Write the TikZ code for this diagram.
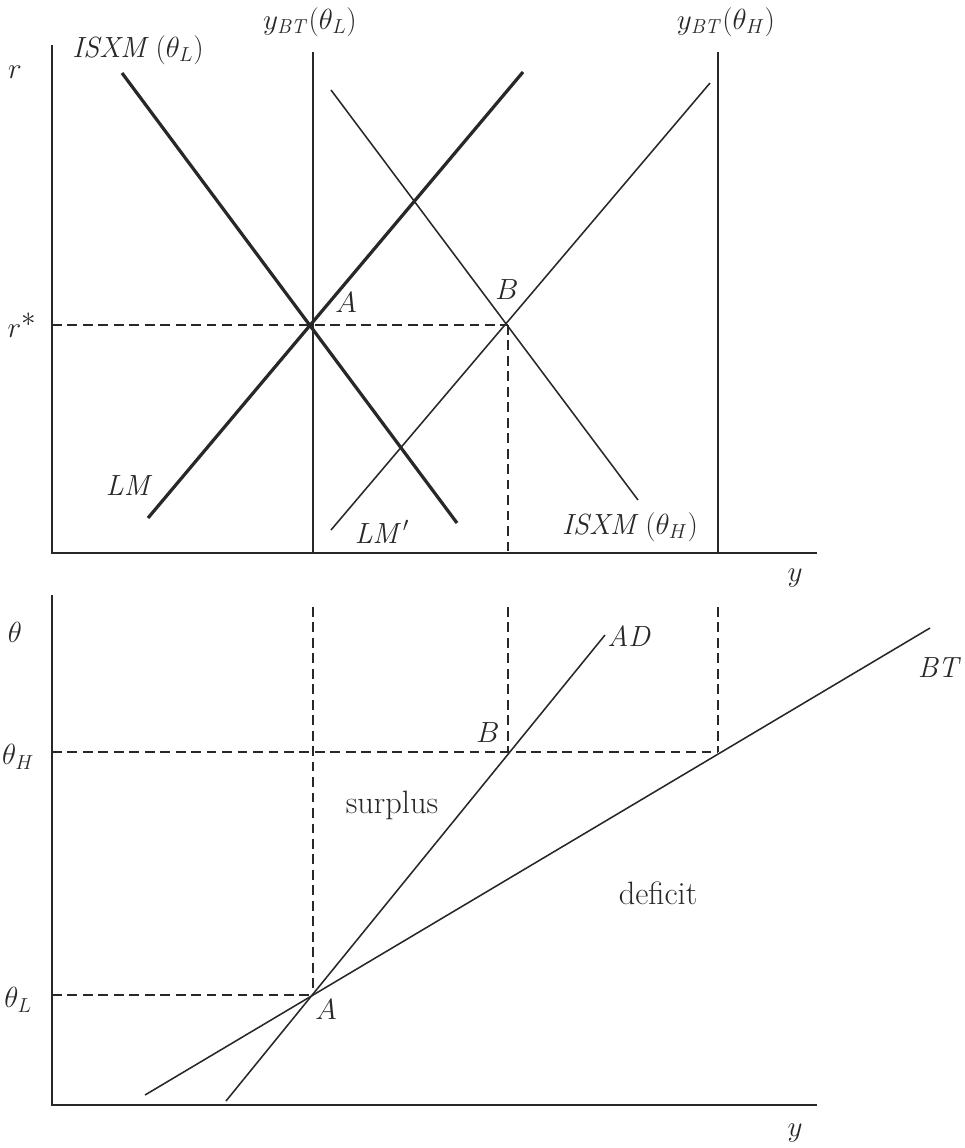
\documentclass[tikz,border=0pt]{standalone}
\definecolor{ink}{RGB}{40,40,40}
\begin{document}
\begin{tikzpicture}[x=0.25mm,y=-0.25mm,
  axis/.style={draw=ink,line width=1.4pt},
  thick curve/.style={draw=ink,line width=2.3pt},
  thin curve/.style={draw=ink,line width=1.1pt},
  guide/.style={draw=ink,line width=0.8pt,dash pattern=on 7pt off 4pt},
  lbl/.style={text=ink,inner sep=0pt,font=\fontsize{22}{26}\selectfont},
  txt/.style={text=ink,inner sep=0pt,font=\fontsize{23}{27}\selectfont}]
\useasboundingbox (0,0) rectangle (964,1148);
% ---------- top panel ----------
\coordinate (t0) at (52,553);
\coordinate (ttop) at (52,45);
\coordinate (tright) at (817,553);
\draw[axis] (ttop) -- (t0) -- (tright);
\coordinate (vL1) at (313,52); \coordinate (vL2) at (313,553);
\coordinate (vH1) at (718,52); \coordinate (vH2) at (718,553);
\draw[thin curve] (vL1) -- (vL2);
\draw[thin curve] (vH1) -- (vH2);
\coordinate (A) at (313,325);
\coordinate (B) at (508,325);
\coordinate (rs) at (52,325);
\coordinate (Bx) at (508,553);
\draw[guide] (rs) -- (B);
\draw[guide] (B) -- (Bx);
\coordinate (isL1) at (122,73); \coordinate (isL2) at (457,523);
\draw[thick curve] (isL1) -- (isL2);
\coordinate (lm1) at (148,518); \coordinate (lm2) at (523,72);
\draw[thick curve] (lm1) -- (lm2);
\coordinate (isH1) at (331,90); \coordinate (isH2) at (638,500);
\draw[thin curve] (isH1) -- (isH2);
\coordinate (lmp1) at (331,530); \coordinate (lmp2) at (710,83);
\draw[thin curve] (lmp1) -- (lmp2);
\node[lbl] (lr) at (15,72) {$r$};
\node[lbl] (lrs) at (22,325) {$r^{\textstyle *}$};
\node[lbl] (lyL) at (310,22) {$y_{\mathit{BT}}(\theta_L)$};
\node[lbl] (lyH) at (726,22) {$y_{\mathit{BT}}(\theta_H)$};
\node[lbl] (lisL) at (138,50) {$\mathit{ISXM}\,(\theta_L)$};
\node[lbl] (lA) at (346,303) {$A$};
\node[lbl] (lB) at (507,290) {$B$};
\node[lbl] (lLM) at (130,486) {$\mathit{LM}$};
\node[lbl] (lLMp) at (382,532) {$\mathit{LM}'$};
\node[lbl] (lisH) at (630,527) {$\mathit{ISXM}\,(\theta_H)$};
\node[lbl] (ly1) at (795,578) {$y$};
% ---------- bottom panel ----------
\coordinate (b0) at (52,1105);
\coordinate (btop) at (52,595);
\coordinate (bright) at (817,1105);
\draw[axis] (btop) -- (b0) -- (bright);
\coordinate (A2) at (313,995);
\coordinate (B2) at (508,752);
\coordinate (C2) at (718,752);
\coordinate (thH) at (52,752);
\coordinate (thL) at (52,995);
\coordinate (d1) at (313,607);
\coordinate (d2) at (508,607);
\coordinate (d3) at (718,607);
\draw[guide] (thH) -- (C2);
\draw[guide] (thL) -- (A2);
\draw[guide] (d1) -- (A2);
\draw[guide] (d2) -- (B2);
\draw[guide] (d3) -- (C2);
\coordinate (ad1) at (226,1101); \coordinate (ad2) at (605,635);
\draw[thin curve] (ad1) -- (ad2);
\coordinate (bt1) at (145,1095); \coordinate (bt2) at (930,628);
\draw[thin curve] (bt1) -- (bt2);
\node[lbl] (lth) at (15,632) {$\theta$};
\node[lbl] (lthH) at (18,757) {$\theta_H$};
\node[lbl] (lthL) at (18,1000) {$\theta_L$};
\node[lbl] (lAD) at (630,637) {$\mathit{AD}$};
\node[lbl] (lBT) at (940,668) {$\mathit{BT}$};
\node[lbl] (lB2) at (488,733) {$B$};
\node[lbl] (lA2) at (326,1010) {$A$};
\node[txt] (lsur) at (392,805) {surplus};
\node[txt] (ldef) at (658,893) {deficit};
\node[lbl] (ly2) at (795,1133) {$y$};
\end{tikzpicture}
\end{document}
